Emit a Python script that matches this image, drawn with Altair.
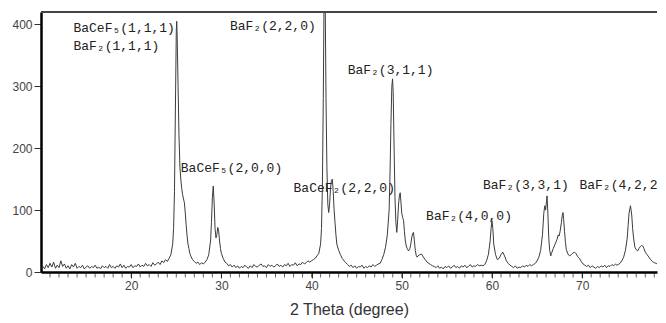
import altair as alt
import pandas as pd

# ---- XRD pattern (2-theta in degrees, intensity in counts) ----
two_theta = [
    10.0, 10.2, 10.4, 10.6, 10.8, 11.0, 11.2, 11.4, 11.6, 11.8, 12.0, 12.2, 12.4, 12.6, 12.8,
    13.0, 13.2, 13.4, 13.6, 13.8, 14.0, 14.2, 14.4, 14.6, 14.8, 15.0, 15.2, 15.4, 15.6, 15.8,
    16.0, 16.2, 16.4, 16.6, 16.8, 17.0, 17.2, 17.4, 17.6, 17.8, 18.0, 18.2, 18.4, 18.6, 18.8,
    19.0, 19.2, 19.4, 19.6, 19.8, 20.0, 20.2, 20.4, 20.6, 20.8, 21.0, 21.2, 21.4, 21.6, 21.8,
    22.0, 22.2, 22.4, 22.6, 22.8, 23.0, 23.2, 23.4, 23.6, 23.8, 24.0,
    24.2, 24.4, 24.6, 24.7, 24.8, 24.9, 25.0, 25.05, 25.1, 25.2, 25.3, 25.4, 25.5, 25.6, 25.7,
    25.8, 25.9, 26.0, 26.1, 26.2, 26.3, 26.4, 26.5, 26.6, 26.8, 27.0, 27.2, 27.4, 27.6, 27.8,
    28.0, 28.2, 28.4, 28.6, 28.8, 28.9, 29.0, 29.1, 29.2, 29.3, 29.4, 29.5, 29.6, 29.7, 29.8,
    29.9, 30.0, 30.2, 30.4, 30.6,
    30.8, 31.0, 31.2, 31.4, 31.6, 31.8, 32.0, 32.2, 32.4, 32.6, 32.8, 33.0, 33.2, 33.4, 33.6,
    33.8, 34.0, 34.2, 34.4, 34.6, 34.8, 35.0, 35.2, 35.4, 35.6, 35.8, 36.0, 36.2, 36.4, 36.6,
    36.8, 37.0, 37.2, 37.4, 37.6, 37.8, 38.0, 38.2, 38.4, 38.6, 38.8, 39.0, 39.2, 39.4, 39.6,
    39.8, 40.0,
    40.2, 40.4, 40.6, 40.8, 41.0, 41.1, 41.2, 41.3, 41.4, 41.5, 41.6, 41.7, 41.8, 41.9, 42.0,
    42.1, 42.2, 42.3, 42.4, 42.5, 42.6, 42.7, 42.8, 43.0, 43.2, 43.4, 43.6, 43.8,
    44.0, 44.2, 44.4, 44.6, 44.8, 45.0, 45.2, 45.4, 45.6, 45.8, 46.0, 46.2, 46.4, 46.6, 46.8,
    47.0, 47.2, 47.4, 47.6,
    47.8, 48.0, 48.2, 48.4, 48.6, 48.7, 48.8, 48.9, 48.98, 49.05, 49.15, 49.25, 49.35, 49.45,
    49.55, 49.65, 49.75, 49.83, 49.9, 50.0, 50.1, 50.2, 50.3, 50.4, 50.5, 50.6, 50.75, 50.9,
    51.0, 51.1, 51.2, 51.3, 51.4, 51.5, 51.6, 51.7, 51.8, 52.0, 52.2, 52.4, 52.6, 52.8, 53.0,
    53.2, 53.4,
    53.6, 53.8, 54.0, 54.2, 54.4, 54.6, 54.8, 55.0, 55.2, 55.4, 55.6, 55.8, 56.0, 56.2, 56.4,
    56.6, 56.8, 57.0, 57.2, 57.4, 57.6, 57.8, 58.0, 58.2, 58.4, 58.6, 58.8, 59.0,
    59.2, 59.4, 59.6, 59.8, 59.9, 60.0, 60.1, 60.2, 60.4, 60.6, 60.8, 61.0, 61.2, 61.4, 61.6,
    61.8, 62.0,
    62.2, 62.4, 62.6, 62.8, 63.0, 63.2, 63.4, 63.6, 63.8, 64.0, 64.2, 64.4,
    64.6, 64.8, 65.0, 65.2, 65.4, 65.6, 65.75, 65.86, 65.95, 66.05, 66.11, 66.2, 66.3, 66.4,
    66.52, 66.6, 66.8, 67.0, 67.2, 67.35, 67.44, 67.55, 67.7, 67.8, 67.88, 67.95, 68.05, 68.15,
    68.25, 68.43, 68.6, 68.8, 69.0, 69.17, 69.3, 69.5, 69.7, 69.9, 70.1, 70.3,
    70.5, 70.7, 70.9, 71.1, 71.3, 71.5, 71.7, 71.9, 72.1, 72.3, 72.5, 72.7, 72.9, 73.1, 73.3,
    73.5, 73.7, 73.85,
    74.0, 74.2, 74.4, 74.6, 74.8, 75.0, 75.1, 75.2, 75.36, 75.5, 75.6, 75.7, 75.85, 76.0, 76.17,
    76.3, 76.45, 76.6, 76.72, 76.85, 77.0, 77.2, 77.4, 77.6, 77.8, 78.0, 78.2, 78.4, 78.6, 78.8,
    79.0, 79.2,
]
intensity = [
    6, 9, 5, 12, 7, 14, 8, 16, 6, 11, 7, 18, 9, 13, 6,
    10, 5, 12, 8, 14, 6, 9, 7, 11, 5, 8, 10, 6, 9, 7,
    11, 6, 8, 5, 10, 7, 9, 6, 12, 7, 9, 6, 10, 8, 13,
    7, 11, 6, 9, 8, 12, 7, 10, 9, 13, 8, 11, 9, 14, 10,
    12, 9, 15, 11, 13, 16, 12, 18, 15, 20, 17,
    22, 28, 45, 70, 130, 260, 390, 405, 380, 300, 220, 170, 150, 135, 125,
    118, 112, 95, 75, 58, 45, 38, 30, 26, 20, 17, 14, 16, 12, 15,
    13, 16, 20, 28, 50, 80, 120, 139, 110, 70, 55, 60, 72, 66, 50,
    38, 30, 22, 16, 14,
    10, 12, 8, 11, 7, 10, 6, 9, 7, 11, 8, 6, 10, 7, 12,
    9, 8, 11, 13, 9, 10, 7, 12, 9, 11, 8, 10, 13, 9, 11,
    8, 12, 10, 14, 9, 12, 11, 15, 10, 13, 12, 16, 13, 15, 18,
    16, 18,
    20, 22, 26, 30, 45, 70, 140, 280, 470, 460, 280, 170, 110, 96, 110,
    135, 148, 150, 130, 100, 80, 60, 45, 35, 28, 22, 18, 15,
    12, 9, 11, 7, 10, 6, 9, 8, 11, 6, 9, 7, 10, 8, 12,
    9, 11, 13, 14,
    20, 28, 40, 60, 100, 160, 240, 300, 312, 290, 200, 120, 80, 64,
    85, 110, 125, 128, 115, 95, 88, 83, 65, 50, 42, 38, 34, 38,
    45, 55, 62, 64, 50, 35, 27, 24, 26, 28, 29, 24, 20, 16, 14,
    12, 10,
    9, 7, 10, 6, 8, 5, 9, 7, 10, 6, 8, 11, 7, 9, 6,
    10, 8, 11, 7, 9, 12, 8, 10, 9, 12, 10, 11, 10,
    12, 18, 28, 50, 70, 83, 70, 45, 28, 20, 22, 28, 32, 26, 18,
    14, 11,
    9, 7, 10, 6, 8, 7, 10, 8, 11, 9, 12, 10,
    12, 14, 18, 24, 35, 60, 95, 107, 100, 115, 123, 95, 55, 35,
    26, 30, 38, 45, 52, 60, 58, 65, 80, 92, 96, 85, 65, 48,
    36, 29, 26, 28, 31, 32, 30, 25, 22, 17, 13, 11,
    9, 11, 7, 10, 8, 6, 9, 7, 10, 8, 11, 7, 10, 9, 12,
    10, 13, 11,
    12, 14, 18, 24, 35, 55, 75, 95, 107, 92, 70, 55, 40, 36, 34,
    38, 41, 43, 42, 38, 32, 28, 24, 20, 17, 15, 14, 12, 14, 12,
    13, 11,
]

# ---- peak annotations (the last one is cut at the right edge in the source) ----
label_text = [
    "BaCeF\u2085(1,1,1)", "BaF\u2082(1,1,1)", "BaF\u2082(2,2,0)", "BaF\u2082(3,1,1)",
    "BaCeF\u2085(2,0,0)", "BaCeF\u2082(2,2,0)", "BaF\u2082(4,0,0)", "BaF\u2082(3,3,1)",
    "BaF\u2082(4,2,2",
]
label_theta = [13.6, 13.6, 30.95, 44.0, 25.5, 38.0, 52.7, 59.0, 69.7]
label_int = [394, 365, 397, 326, 168, 136, 91, 141, 141]

x_ticks = [20, 30, 40, 50, 60, 70]
y_ticks = [0, 100, 200, 300, 400]
minor_ticks = list(range(11, 79))

X_DOMAIN = [10, 78.3]
Y_DOMAIN = [0, 420]

pattern = pd.DataFrame({"theta": two_theta, "counts": intensity})
labels = pd.DataFrame({"theta": label_theta, "counts": label_int, "label": label_text})
minors = pd.DataFrame({"theta": minor_ticks})

x_scale = alt.Scale(domain=X_DOMAIN, nice=False, zero=False)
y_scale = alt.Scale(domain=Y_DOMAIN, nice=False)

line = alt.Chart(pattern).mark_line(color="#3c3c3c", strokeWidth=1, clip=True).encode(
    x=alt.X(
        "theta:Q",
        scale=x_scale,
        axis=alt.Axis(
            values=x_ticks,
            title="2 Theta (degree)",
            tickSize=6,
            labelPadding=2,
            titlePadding=10,
        ),
    ),
    y=alt.Y(
        "counts:Q",
        scale=y_scale,
        axis=alt.Axis(values=y_ticks, title=None, tickSize=7, labelPadding=2),
    ),
)

top_border = alt.Chart(pattern).mark_rule(color="#444", strokeWidth=2).encode(
    y=alt.datum(420)
)

minor = alt.Chart(minors).mark_tick(
    orient="vertical", size=5, thickness=1, yOffset=3, color="#222"
).encode(x=alt.X("theta:Q", scale=x_scale), y=alt.datum(0))

text = alt.Chart(labels).mark_text(
    align="left",
    baseline="middle",
    font="Liberation Mono",
    fontSize=13,
    color="#222",
    clip=True,
).encode(x=alt.X("theta:Q", scale=x_scale), y=alt.Y("counts:Q", scale=y_scale), text="label:N")

chart = (
    alt.layer(line, top_border, minor, text)
    .properties(
        width=650,
        height=312,
        autosize=alt.AutoSizeParams(type="fit", contains="padding"),
        padding={"left": 3, "top": 3, "right": 0, "bottom": 3},
    )
    .configure_view(stroke=None)
    .configure_axis(
        grid=False,
        domainColor="#000",
        domainWidth=2.5,
        tickColor="#333",
        tickWidth=1,
        labelFont="Liberation Sans",
        labelFontSize=12,
        labelColor="#444",
        titleFont="Liberation Sans",
        titleFontSize=16,
        titleFontWeight="normal",
        titleColor="#333",
    )
)

chart.save("out.html", embed_options={"renderer": "svg", "actions": False})
